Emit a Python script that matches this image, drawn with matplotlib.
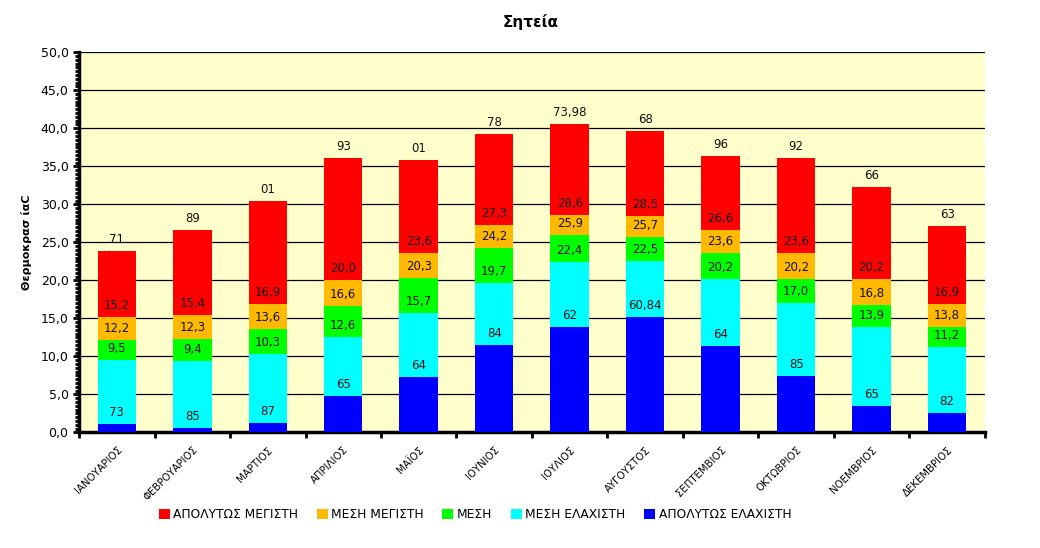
import numpy as np
import matplotlib
matplotlib.use("Agg")
import matplotlib.pyplot as plt
from matplotlib.ticker import MultipleLocator, FuncFormatter, FixedLocator

months = ["ΙΑΝΟΥΑΡΙΟΣ", "ΦΕΒΡΟΥΑΡΙΟΣ", "ΜΑΡΤΙΟΣ", "ΑΠΡΙΛΙΟΣ", "ΜΑΪΟΣ", "ΙΟΥΝΙΟΣ",
          "ΙΟΥΛΙΟΣ", "ΑΥΓΟΥΣΤΟΣ", "ΣΕΠΤΕΜΒΙΟΣ", "ΟΚΤΩΒΡΙΟΣ", "ΝΟΕΜΒΡΙΟΣ", "ΔΕΚΕΜΒΡΙΟΣ"]

abs_max = [23.8, 26.6, 30.4, 36.1, 35.8, 39.2, 40.6, 39.6, 36.3, 36.1, 32.3, 27.1]
mean_max = [15.2, 15.4, 16.9, 20.0, 23.6, 27.3, 28.6, 28.5, 26.6, 23.6, 20.2, 16.9]
mean = [12.2, 12.3, 13.6, 16.6, 20.3, 24.2, 25.9, 25.7, 23.6, 20.2, 16.8, 13.8]
mean_min = [9.5, 9.4, 10.3, 12.6, 15.7, 19.7, 22.4, 22.5, 20.2, 17.0, 13.9, 11.2]
abs_min = [1.1, 0.6, 1.2, 4.8, 7.3, 11.5, 13.8, 15.2, 11.4, 7.4, 3.5, 2.5]

# the chart labels the absolute extremes with these (year-like) texts
abs_max_labels = ["71", "89", "01", "93", "01", "78", "73,98", "68", "96", "92", "66", "63"]
abs_min_labels = ["73", "85", "87", "65", "64", "84", "62", "60,84", "64", "85", "65", "82"]

series = [
    ("ΑΠΟΛΥΤΩΣ ΜΕΓΙΣΤΗ", abs_max, "#FF0000", abs_max_labels),
    ("ΜΕΣΗ ΜΕΓΙΣΤΗ", mean_max, "#FFB900", None),
    ("ΜΕΣΗ", mean, "#00FF00", None),
    ("ΜΕΣΗ ΕΛΑΧΙΣΤΗ", mean_min, "#00FFFF", None),
    ("ΑΠΟΛΥΤΩΣ ΕΛΑΧΙΣΤΗ", abs_min, "#0000FF", abs_min_labels),
]

fig = plt.figure(figsize=(10.4, 5.48), dpi=100)
ax = fig.add_axes([0.076, 0.211, 0.871, 0.6936])
ax.set_facecolor("#FFFFCC")

x = np.arange(len(months))
for name, vals, col, labs in series:
    ax.bar(x, vals, width=0.51, color=col, label=name, zorder=3)
    if labs is None:
        labs = [f"{v:.1f}".replace(".", ",") for v in vals]
    for xi, v, t in zip(x, vals, labs):
        ax.annotate(t, (xi, v), xytext=(0, 8.3), textcoords="offset points",
                    ha="center", va="center", fontsize=8.5, color="#111111", zorder=5)

ax.set_xlim(-0.5, len(months) - 0.5)
ax.set_ylim(0, 50)
ax.yaxis.set_major_locator(MultipleLocator(5))
ax.yaxis.set_minor_locator(MultipleLocator(0.5))
ax.yaxis.set_major_formatter(FuncFormatter(lambda v, p: f"{v:.1f}".replace(".", ",")))
ax.grid(axis="y", color="black", linewidth=0.9, zorder=1)
ax.set_axisbelow(True)

ax.set_xticks(x)
ax.set_xticklabels(months, rotation=45, ha="right", rotation_mode="anchor", fontsize=7.3)
ax.xaxis.set_minor_locator(FixedLocator(np.arange(-0.5, len(months), 1.0)))
ax.tick_params(axis="x", which="major", length=0, pad=9)
ax.tick_params(axis="x", which="minor", length=4, width=2, direction="out")
ax.tick_params(axis="y", which="major", length=4, width=2, labelsize=9)
ax.tick_params(axis="y", which="minor", length=3, width=2)

for s in ["top", "right"]:
    ax.spines[s].set_visible(False)
ax.spines["left"].set_linewidth(2.5)
ax.spines["bottom"].set_linewidth(2.5)

ax.set_ylabel("Θερμοκρασ ίαC", fontsize=8, fontweight="bold", labelpad=6)
fig.suptitle("Σητεία", x=0.51, y=0.975, fontsize=11, fontweight="bold")

ax.legend(loc="upper center", bbox_to_anchor=(0.437, -0.17), ncol=5, frameon=False,
          fontsize=8.8, handlelength=0.9, handleheight=0.9, handletextpad=0.3,
          columnspacing=1.5)

fig.savefig("out.png", dpi=100)
